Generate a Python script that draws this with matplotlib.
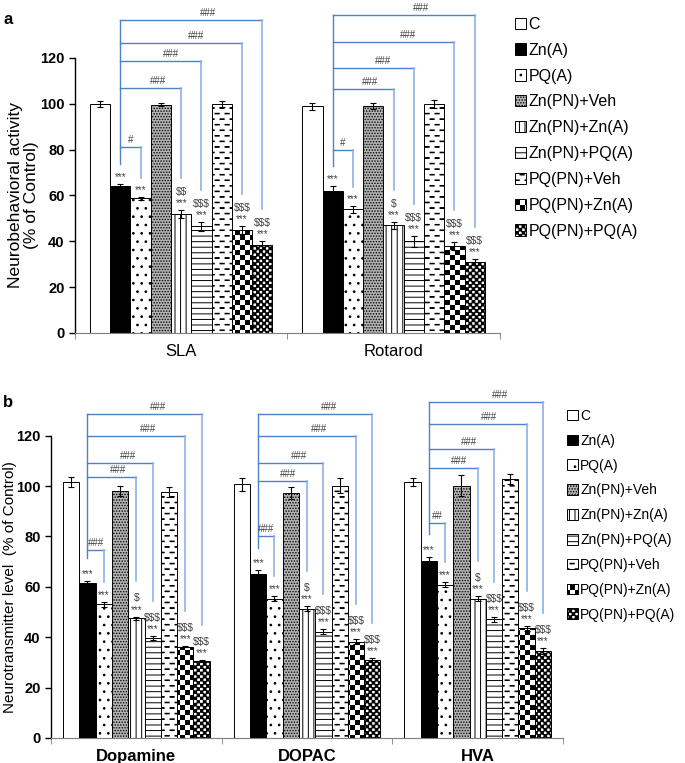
import numpy as np
import matplotlib
matplotlib.use("Agg")
import matplotlib.pyplot as plt
import matplotlib.hatch as mhatch
from matplotlib.path import Path

groups = ["C", "Zn(A)", "PQ(A)", "Zn(PN)+Veh", "Zn(PN)+Zn(A)", "Zn(PN)+PQ(A)",
          "PQ(PN)+Veh", "PQ(PN)+Zn(A)", "PQ(PN)+PQ(A)"]

# panel a - neurobehaviour
behav_tests = ["SLA", "Rotarod"]
sla_mean = [100, 64, 58.7, 99.7, 52, 46.5, 100, 45, 38.5]
sla_err = [1.3, 0.8, 0.8, 0.7, 1.8, 2.0, 1.3, 1.8, 1.8]
rotarod_mean = [99, 62, 54, 99, 47, 40, 100, 38, 31]
rotarod_err = [1.5, 2.0, 1.5, 1.2, 1.5, 2.5, 1.8, 1.8, 1.2]

# panel b - neurotransmitters
transmitters = ["Dopamine", "DOPAC", "HVA"]
dopamine_mean = [101.7, 61.4, 53, 97.9, 47.5, 39.6, 97.6, 36.3, 30.6]
dopamine_err = [2.0, 1.0, 1.0, 2.0, 0.7, 0.7, 2.0, 0.3, 0.4]
dopac_mean = [100.7, 65, 55.3, 97.2, 51.3, 42.2, 100.2, 38.2, 30.8]
dopac_err = [2.5, 1.5, 1.0, 2.5, 1.0, 1.0, 3.0, 1.0, 0.8]
hva_mean = [101.7, 70.3, 60.9, 100.2, 55.3, 47.1, 102.7, 43.5, 34.5]
hva_err = [1.5, 1.5, 1.0, 4.0, 1.0, 1.0, 2.0, 1.0, 1.2]

# significance marks
stars = ["", "***", "***", "", "***", "***", "", "***", "***"]
sla_dollar = ["", "", "", "", "$$", "$$$", "", "$$$", "$$$"]
rotarod_dollar = ["", "", "", "", "$", "$$$", "", "$$$", "$$$"]
nt_dollar = ["", "", "", "", "$", "$$$", "", "$$$", "$$$"]

# brackets drawn from Zn(A) to these groups
bracket_targets = [2, 4, 5, 7, 8]
sla_hash = ["#", "###", "###", "###", "###"]
sla_levels = [81, 107, 118.7, 126.7, 136.7]
rotarod_hash = ["#", "###", "###", "###", "###"]
rotarod_levels = [80, 106.4, 115.6, 127, 138.9]
dopamine_hash = ["###", "###", "###", "###", "###"]
dopamine_levels = [74.6, 103.5, 109.3, 119.7, 128.5]
dopac_hash = ["###", "###", "###", "###", "###"]
dopac_levels = [80, 102, 109.3, 119.7, 128.5]
hva_hash = ["##", "###", "###", "###", "###"]
hva_levels = [85.2, 107.3, 114.8, 124.5, 133.5]


# extra hatch patterns (checkerboards and dashes)
class CheckerHatch(mhatch.HatchPatternBase):
    char = "O"
    cells = 20
    inset = 0.005

    def __init__(self, hatch, density):
        self.n = self.cells if self.char in hatch else 0
        self.num_vertices = (self.n * self.n // 2) * 5

    def set_vertices_and_codes(self, vertices, codes):
        step = 1.0 / self.n
        a, b = self.inset, step - self.inset
        sq = np.array([[a, a], [b, a], [b, b], [a, b], [a, a]], float)
        k = 0
        for i in range(self.n):
            for j in range(self.n):
                if (i + j) % 2 == 0:
                    vertices[k:k + 5] = sq + (i * step, j * step)
                    codes[k:k + 5] = [Path.MOVETO, Path.LINETO, Path.LINETO,
                                      Path.LINETO, Path.CLOSEPOLY]
                    k += 5


class FineCheckerHatch(CheckerHatch):
    char = "o"
    cells = 32
    inset = 0.002


class DashHatch(mhatch.HatchPatternBase):
    rows = 18
    cols = 10

    def __init__(self, hatch, density):
        self.on = "*" in hatch
        self.num_vertices = self.rows * (self.cols + 1) * 5 if self.on else 0

    def set_vertices_and_codes(self, vertices, codes):
        k = 0
        ln = 0.42 / self.cols
        th = 0.006
        for r in range(self.rows):
            y = (r + 0.5) / self.rows
            shift = 0.5 / self.cols if r % 2 else 0.0
            for c in range(self.cols + 1):
                x0 = c / self.cols - shift
                vertices[k:k + 5] = [[x0, y], [x0 + ln, y], [x0 + ln, y + th],
                                     [x0, y + th], [x0, y]]
                codes[k:k + 5] = [Path.MOVETO, Path.LINETO, Path.LINETO,
                                  Path.LINETO, Path.CLOSEPOLY]
                k += 5


mhatch._hatch_types[:] = [mhatch.HorizontalHatch, mhatch.VerticalHatch,
                          mhatch.NorthEastHatch, mhatch.SouthEastHatch,
                          mhatch.SmallFilledCircles,
                          CheckerHatch, FineCheckerHatch, DashHatch]

plt.rcParams["font.family"] = ["Liberation Sans", "DejaVu Sans"]
plt.rcParams["hatch.linewidth"] = 0.7

face = ["white", "black", "white", "#b4b4b4", "white", "white", "white", "white", "white"]
hatches = [None, None, "..", "......", "|||", "---", "*", "O", "o"]

BAR_W = 0.0955
LINE_DARK = "#4f81c7"
LINE_LIGHT = "#8db3e2"
TXT = "#404040"


def draw_panel(ax, cats, means, errs, dollars, hashes, levels, bold_x):
    means = np.array(means)
    errs = np.array(errs)
    x = np.arange(len(cats))
    conts = []
    for j, g in enumerate(groups):
        xs = x + (j - 4) * BAR_W
        c = ax.bar(xs, means[:, j], BAR_W, yerr=errs[:, j], color=face[j],
                   edgecolor="black", linewidth=0.7, hatch=hatches[j],
                   error_kw=dict(ecolor="black", elinewidth=0.8, capsize=2.5,
                                 capthick=0.8), label=g, zorder=2)
        conts.append(c)

    for i in range(len(cats)):
        top = means[i] + errs[i]
        for j in range(len(groups)):
            xj = i + (j - 4) * BAR_W
            if stars[j]:
                ax.annotate(stars[j], (xj, top[j]), xytext=(0, 5),
                            textcoords="offset points", ha="center", va="center",
                            fontsize=7, color=TXT)
            if dollars[i][j]:
                ax.annotate(dollars[i][j], (xj, top[j]), xytext=(0, 13),
                            textcoords="offset points", ha="center", va="center",
                            fontsize=7.5, color=TXT, parse_math=False)

        # brackets from Zn(A)
        x_left = i - 3 * BAR_W
        ax.plot([x_left, x_left], [top[1] + 9, max(levels[i])], color=LINE_DARK,
                lw=1.0, clip_on=False, zorder=3)
        for k, t in enumerate(bracket_targets):
            xt = i + (t - 4) * BAR_W
            lvl = levels[i][k]
            drop = top[t] + (14 if dollars[i][t] else 8)
            ax.plot([x_left, xt], [lvl, lvl], color=LINE_DARK, lw=1.0,
                    clip_on=False, zorder=3)
            ax.plot([xt, xt], [lvl, drop], color=LINE_LIGHT, lw=1.2,
                    clip_on=False, zorder=3)
            frac = 0.5 if k == 0 else 0.62
            ax.annotate(hashes[i][k], (x_left + frac * (xt - x_left), lvl),
                        xytext=(0, 1.5), textcoords="offset points",
                        ha="center", va="bottom", fontsize=7, color=TXT,
                        annotation_clip=False)

    ax.set_xlim(-0.5, len(cats) - 0.5)
    ax.set_ylim(0, 120)
    ax.set_yticks(np.arange(0, 121, 20))
    ax.set_xticks(x)
    ax.set_xticklabels(cats, fontsize=12, fontweight="bold" if bold_x else "normal")
    ax.set_xticks(np.arange(-0.5, len(cats)), minor=True)
    ax.tick_params(axis="x", which="major", length=0, pad=8)
    ax.tick_params(axis="x", which="minor", length=4, color="#7f7f7f", direction="out")
    ax.tick_params(axis="y", length=4, width=1, direction="out", labelsize=10.5)
    for lab in ax.get_yticklabels():
        lab.set_fontweight("bold")
    ax.spines["top"].set_visible(False)
    ax.spines["right"].set_visible(False)
    ax.spines["bottom"].set_color("#7f7f7f")
    ax.spines["left"].set_linewidth(1.0)
    return conts


fig = plt.figure(figsize=(6.85, 7.63), dpi=100)

ax_a = fig.add_axes([0.1095, 0.5636, 0.620, 0.3604])
conts_a = draw_panel(ax_a, behav_tests, [sla_mean, rotarod_mean],
                     [sla_err, rotarod_err], [sla_dollar, rotarod_dollar],
                     [sla_hash, rotarod_hash], [sla_levels, rotarod_levels], False)
ax_a.set_ylabel("Neurobehavioral activity\n(% of Control)", fontsize=12.5,
                linespacing=1.05)
ax_a.yaxis.set_label_coords(-0.085, 0.5)

ax_b = fig.add_axes([0.0745, 0.0328, 0.7475, 0.3962])
conts_b = draw_panel(ax_b, transmitters, [dopamine_mean, dopac_mean, hva_mean],
                     [dopamine_err, dopac_err, hva_err],
                     [nt_dollar, nt_dollar, nt_dollar],
                     [dopamine_hash, dopac_hash, hva_hash],
                     [dopamine_levels, dopac_levels, hva_levels], True)
ax_b.set_ylabel("Neurotransmitter level  (% of Control)", fontsize=11)
ax_b.yaxis.set_label_coords(-0.066, 0.5)

fig.legend(conts_a, groups, loc="upper left", bbox_to_anchor=(0.752, 0.978),
           frameon=False, fontsize=11.5, handlelength=0.7, handleheight=0.7,
           handletextpad=0.15, labelspacing=0.68, borderaxespad=0, borderpad=0)
fig.legend(conts_b, groups, loc="upper left", bbox_to_anchor=(0.828, 0.464),
           frameon=False, fontsize=10, handlelength=0.8, handleheight=0.8,
           handletextpad=0.15, labelspacing=0.78, borderaxespad=0, borderpad=0)

fig.text(0.005, 1 - 20 / 763, "a", fontsize=12, fontweight="bold", va="center")
fig.text(0.005, 1 - 403 / 763, "b", fontsize=12, fontweight="bold", va="center")

fig.savefig("out.png", dpi=100)
